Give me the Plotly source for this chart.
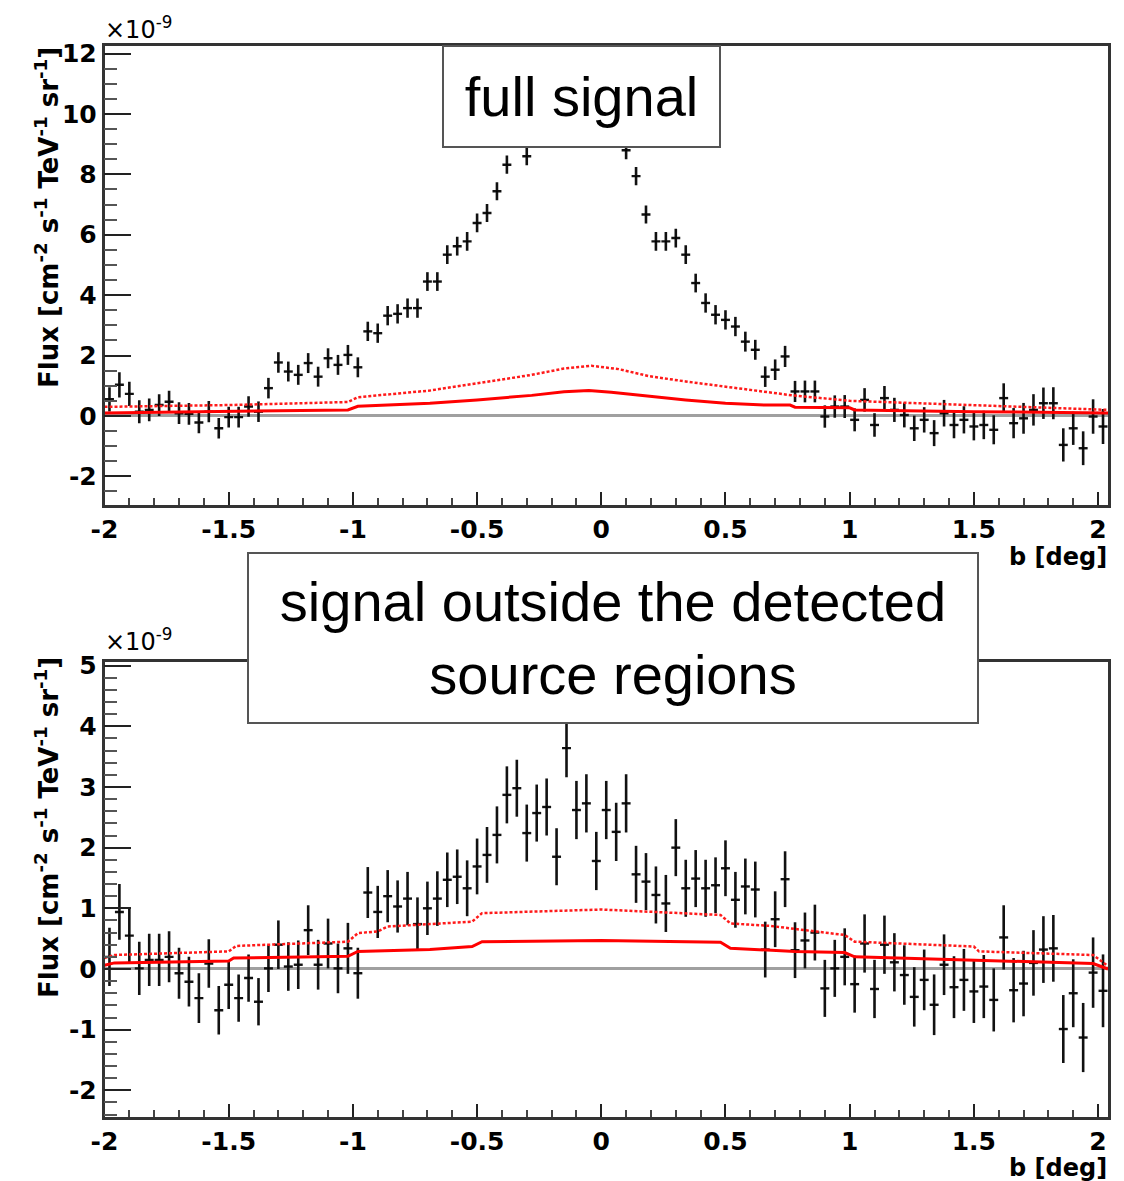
import numpy as np
import plotly.graph_objects as go

# ---------------- data ----------------
# bin centres of the latitude profile (0.04 deg bins from -2 to 2.04)
b_centers = np.round(np.arange(-1.98, 2.03, 0.04), 2)

top_flux = [0.55, 1.03, 0.73, 0.14, 0.20, 0.36, 0.47, 0.09, 0.07, -0.22,
            0.14, -0.41, -0.04, -0.04, 0.31, 0.14, 0.92, 1.77, 1.47, 1.36,
            1.75, 1.30, 1.91, 1.69, 2.02, 1.61, 2.80, 2.74, 3.32, 3.38,
            3.57, 3.57, 4.45, 4.45, 5.34, 5.62, 5.78, 6.39, 6.72, 7.44,
            8.32, 9.20, 8.60, 9.60, 10.0, 10.4, 10.9, 11.0, 10.8, 10.5,
            10.1, 9.60, 8.80, 7.94, 6.67, 5.78, 5.78, 5.89, 5.34, 4.40,
            3.74, 3.35, 3.18, 2.96, 2.46, 2.19, 1.30, 1.53, 1.97, 0.81,
            0.81, 0.81, -0.02, 0.31, 0.31, -0.13, 0.53, -0.30, 0.59, 0.20,
            0.03, -0.41, -0.13, -0.57, 0.09, -0.30, -0.13, -0.35, -0.30, -0.46,
            0.59, -0.24, -0.08, 0.20, 0.42, 0.42, -0.96, -0.41, -1.07, -0.02,
            -0.35]

top_err = [0.40, 0.42, 0.40, 0.38, 0.38, 0.36, 0.36, 0.36, 0.36, 0.35,
           0.35, 0.34, 0.34, 0.34, 0.34, 0.34, 0.34, 0.34, 0.33, 0.33,
           0.33, 0.33, 0.33, 0.33, 0.33, 0.33, 0.32, 0.32, 0.32, 0.32,
           0.32, 0.32, 0.31, 0.31, 0.31, 0.31, 0.31, 0.31, 0.30, 0.30,
           0.30, 0.30, 0.30, 0.30, 0.30, 0.30, 0.30, 0.30, 0.30, 0.30,
           0.30, 0.30, 0.30, 0.30, 0.30, 0.31, 0.31, 0.31, 0.31, 0.31,
           0.32, 0.32, 0.32, 0.32, 0.33, 0.33, 0.34, 0.34, 0.35, 0.35,
           0.36, 0.36, 0.37, 0.37, 0.38, 0.38, 0.39, 0.39, 0.40, 0.40,
           0.41, 0.42, 0.42, 0.43, 0.44, 0.44, 0.45, 0.46, 0.47, 0.48,
           0.49, 0.50, 0.51, 0.52, 0.52, 0.53, 0.55, 0.55, 0.56, 0.57,
           0.58]

bot_flux = [0.20, 0.94, 0.55, 0.01, 0.15, 0.15, 0.20, -0.07, -0.21, -0.48,
            0.09, -0.68, -0.26, -0.48, -0.15, -0.54, 0.01, 0.40, 0.04, 0.07,
            0.64, 0.07, 0.42, 0.01, 0.34, -0.07, 1.26, 0.94, 1.20, 1.03,
            1.16, 0.74, 1.00, 1.16, 1.47, 1.52, 1.33, 1.69, 1.88, 2.21,
            2.87, 2.98, 2.24, 2.57, 2.67, 1.85, 3.64, 2.62, 2.73, 1.78,
            2.62, 2.26, 2.73, 1.56, 1.44, 1.22, 1.08, 2.00, 1.33, 1.49,
            1.33, 1.38, 1.66, 1.14, 1.36, 1.31, 0.32, 0.82, 1.48, 0.31,
            0.47, 0.60, -0.32, 0.01, 0.20, -0.25, 0.42, -0.33, 0.40, 0.11,
            -0.10, -0.46, -0.18, -0.59, 0.07, -0.30, -0.18, -0.37, -0.29, -0.51,
            0.52, -0.35, -0.24, 0.10, 0.32, 0.34, -0.99, -0.40, -1.13, -0.06,
            -0.36]

bot_err = [0.48, 0.46, 0.45, 0.44, 0.43, 0.43, 0.42, 0.42, 0.41, 0.41,
           0.40, 0.40, 0.40, 0.39, 0.39, 0.39, 0.39, 0.40, 0.40, 0.40,
           0.41, 0.41, 0.41, 0.41, 0.42, 0.42, 0.42, 0.43, 0.43, 0.43,
           0.44, 0.44, 0.44, 0.45, 0.45, 0.45, 0.46, 0.46, 0.46, 0.47,
           0.47, 0.47, 0.47, 0.47, 0.47, 0.47, 0.48, 0.48, 0.48, 0.48,
           0.48, 0.48, 0.48, 0.47, 0.47, 0.47, 0.47, 0.47, 0.47, 0.47,
           0.47, 0.46, 0.46, 0.46, 0.46, 0.46, 0.46, 0.46, 0.46, 0.46,
           0.46, 0.46, 0.47, 0.47, 0.47, 0.47, 0.48, 0.48, 0.48, 0.48,
           0.49, 0.49, 0.50, 0.50, 0.50, 0.51, 0.51, 0.52, 0.52, 0.52,
           0.53, 0.53, 0.54, 0.54, 0.55, 0.55, 0.56, 0.56, 0.57, 0.58,
           0.60]

bin_half_width = 0.018

# model curves (red), read at their nodes
top_solid_b = [-2.0, -1.5, -1.02, -0.98, -0.69, -0.5, -0.28, -0.15, -0.05, 0.04,
               0.2, 0.34, 0.5, 0.66, 0.76, 0.78, 1.0, 1.02, 1.5, 2.04]
top_solid_f = [0.10, 0.14, 0.20, 0.32, 0.42, 0.53, 0.68, 0.80, 0.84, 0.78,
               0.64, 0.53, 0.42, 0.36, 0.36, 0.29, 0.27, 0.20, 0.14, 0.10]
top_dot_b = [-2.0, -1.5, -1.02, -0.98, -0.69, -0.5, -0.28, -0.15, -0.04, 0.07,
             0.19, 0.34, 0.5, 0.66, 0.77, 1.0, 1.5, 2.04]
top_dot_f = [0.30, 0.36, 0.46, 0.62, 0.84, 1.07, 1.36, 1.57, 1.66, 1.55,
             1.32, 1.14, 0.97, 0.80, 0.68, 0.50, 0.36, 0.20]

bot_solid_b = [-2.0, -1.96, -1.5, -1.48, -1.02, -0.98, -0.69, -0.52, -0.48, 0.0,
               0.48, 0.52, 0.78, 0.98, 1.02, 1.5, 1.98, 2.04]
bot_solid_f = [0.06, 0.10, 0.13, 0.18, 0.21, 0.29, 0.32, 0.37, 0.45, 0.47,
               0.44, 0.34, 0.29, 0.27, 0.20, 0.15, 0.09, 0.00]
bot_dot_b = [-2.0, -1.96, -1.5, -1.47, -1.02, -0.98, -0.9, -0.86, -0.69, -0.52,
             -0.48, 0.0, 0.48, 0.52, 0.68, 0.98, 1.02, 1.5, 1.52, 1.98, 2.04]
bot_dot_f = [0.18, 0.23, 0.29, 0.38, 0.45, 0.59, 0.62, 0.70, 0.74, 0.78,
             0.92, 0.98, 0.89, 0.75, 0.71, 0.56, 0.45, 0.37, 0.29, 0.23, 0.05]

x_tick_vals = [-2, -1.5, -1, -0.5, 0, 0.5, 1, 1.5, 2]
x_tick_text = ['-2', '-1.5', '-1', '-0.5', '0', '0.5', '1', '1.5', '2']
top_y_vals = [-2, 0, 2, 4, 6, 8, 10, 12]
top_y_text = ['-2', '0', '2', '4', '6', '8', '10', '12']
bot_y_vals = [-2, -1, 0, 1, 2, 3, 4, 5]
bot_y_text = ['-2', '-1', '0', '1', '2', '3', '4', '5']

# ---------------- figure ----------------
W, H = 1124, 1181
fig = go.Figure()

def add_panel(xa, ya, flux, err, sb, sf, db, df):
    fig.add_trace(go.Scatter(
        x=b_centers, y=flux, mode='markers', xaxis=xa, yaxis=ya,
        marker=dict(size=2, color='black'),
        error_y=dict(type='data', array=err, color='#111', thickness=2.6, width=0),
        error_x=dict(type='constant', value=bin_half_width, color='#111', thickness=2.4, width=0),
        showlegend=False, hoverinfo='skip'))
    fig.add_trace(go.Scatter(
        x=db, y=df, mode='lines', xaxis=xa, yaxis=ya,
        line=dict(color='#ff1a1a', width=2.5, dash='3px,2px'), showlegend=False))
    fig.add_trace(go.Scatter(
        x=sb, y=sf, mode='lines', xaxis=xa, yaxis=ya,
        line=dict(color='#ff0000', width=3), showlegend=False))

add_panel('x', 'y', top_flux, top_err, top_solid_b, top_solid_f, top_dot_b, top_dot_f)
add_panel('x2', 'y2', bot_flux, bot_err, bot_solid_b, bot_solid_f, bot_dot_b, bot_dot_f)

tickfont = dict(family='DejaVu Sans', size=25, color='black', weight='bold')
x_dom = [104.5 / W, 1108 / W]
top_dom = [1 - 505 / H, 1 - 46 / H]
bot_dom = [1 - 1117 / H, 1 - 662 / H]

def xaxis(anchor):
    return dict(domain=x_dom, range=[-2.0, 2.04], anchor=anchor, automargin=False,
                tickmode='array', tickvals=x_tick_vals, ticktext=x_tick_text,
                ticks='inside', ticklen=13, tickwidth=2, tickcolor='#222',
                minor=dict(tickmode='linear', tick0=0, dtick=0.1, ticks='inside',
                           ticklen=7, tickwidth=1.5, tickcolor='#444'),
                showline=True, linecolor='#333', linewidth=2.5, mirror=True,
                showgrid=False, zeroline=False, tickfont=tickfont)

def yaxis(anchor, dom, rng, vals, text, mdt):
    return dict(domain=dom, range=rng, anchor=anchor, automargin=False,
                tickmode='array', tickvals=vals, ticktext=text,
                ticks='inside', ticklen=27, tickwidth=2, tickcolor='#222',
                minor=dict(tickmode='linear', tick0=0, dtick=mdt, ticks='inside',
                           ticklen=13, tickwidth=2, tickcolor='#555'),
                showline=True, linecolor='#333', linewidth=2.5, mirror=True,
                showgrid=False, zeroline=True, zerolinecolor='#a0a0a0',
                zerolinewidth=3, tickfont=tickfont)

fig.update_layout(
    template='none',
    width=W, height=H, autosize=False,
    margin=dict(l=0, r=0, t=0, b=0, pad=0),
    paper_bgcolor='white', plot_bgcolor='white',
    xaxis=xaxis('y'),
    yaxis=yaxis('x', top_dom, [-2.95, 12.25], top_y_vals, top_y_text, 0.5),
    xaxis2=xaxis('y2'),
    yaxis2=yaxis('x2', bot_dom, [-2.44, 5.06], bot_y_vals, bot_y_text, 0.2),
)

ylabel = 'Flux [cm<sup>-2</sup> s<sup>-1</sup> TeV<sup>-1</sup> sr<sup>-1</sup>]'
labfont = dict(family='DejaVu Sans', size=26, color='black', weight='bold')
ann = []
for yc in (218, 828):
    ann.append(dict(xref='paper', yref='paper', x=47 / W, y=1 - yc / H,
                    text=ylabel, textangle=-90, showarrow=False,
                    xanchor='center', yanchor='middle', font=labfont))
for ytop in (542, 1153):
    ann.append(dict(xref='paper', yref='paper', x=1108 / W, y=1 - ytop / H,
                    text='b [deg]', showarrow=False,
                    xanchor='right', yanchor='top', borderpad=0,
                    font=dict(family='DejaVu Sans', size=24, color='black', weight='bold')))
for ybase in (46, 658):
    ann.append(dict(xref='paper', yref='paper', x=103 / W, y=1 - ybase / H,
                    text='×10<sup>-9</sup>', showarrow=False,
                    xanchor='left', yanchor='bottom',
                    font=dict(family='DejaVu Sans', size=24, color='black')))
# text boxes
boxfont = dict(family='Liberation Sans', size=56, color='black')
ann.append(dict(xref='paper', yref='paper', x=581.5 / W, y=1 - 96.5 / H,
                text='full signal', showarrow=False, xanchor='center', yanchor='middle',
                font=boxfont, bgcolor='white', bordercolor='#555', borderwidth=2,
                borderpad=0, width=275, height=99))
ann.append(dict(xref='paper', yref='paper', x=613 / W, y=1 - 638 / H,
                text='signal outside the detected<br>source regions', showarrow=False,
                xanchor='center', yanchor='middle', align='center',
                font=boxfont, bgcolor='white', bordercolor='#555', borderwidth=2,
                borderpad=0, width=728, height=168))
fig.update_layout(annotations=ann)

fig.write_html('out.html')
